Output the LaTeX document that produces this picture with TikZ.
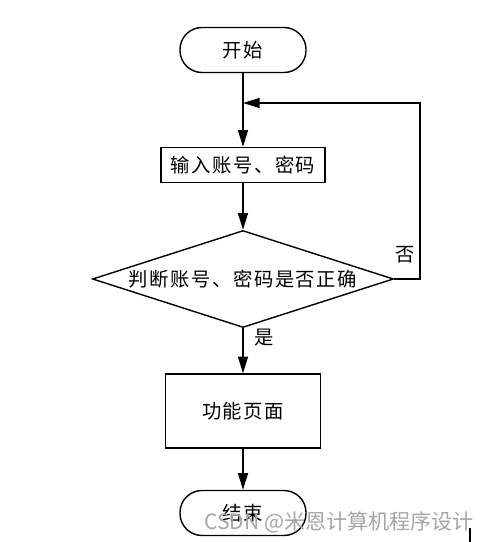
\documentclass[tikz,border=0pt]{standalone}
\usepackage{fontspec}
\setmainfont[LetterSpace=8]{Noto Sans CJK SC}
\newfontfamily\markfont{Noto Sans CJK SC}
\usetikzlibrary{arrows.meta,shapes.geometric}
\begin{document}
\begin{tikzpicture}[x=0.03cm,y=-0.03cm,line width=1.2pt,
  every node/.style={font=\fontsize{16.5pt}{19pt}\selectfont},
  term/.style={draw,rounded corners=0.66cm,minimum width=3.78cm,minimum height=1.35cm},
  inbox/.style={draw,minimum width=4.92cm,minimum height=1.05cm,inner sep=1pt},
  pagebox/.style={draw,minimum width=4.65cm,minimum height=2.22cm},
  check/.style={draw,diamond,aspect=3.1,minimum width=9.03cm,minimum height=2.91cm,inner sep=1pt},
  arr/.style={-{Triangle[length=0.5cm,width=0.3cm]}}]
\useasboundingbox (0,0) rectangle (480,542);

\node[term] (start) at (243,50) {开始};
\node[inbox] (input) at (243,165) {输入账号、密码};
\node[check] (judge) at (243,279) {判断账号、密码是否正确};
\node[pagebox] (page) at (243,411) {功能页面};
\node[term] (stop) at (243,513) {结束};

\coordinate (back) at (243,103);
\coordinate (turn) at (420,279);

\draw[arr] (start) -- (input);
\draw[arr] (input) -- (judge);
\draw[arr] (judge) -- (page);
\draw[arr] (page) -- (stop);
\draw[arr] (judge.east) -- (turn) |- (back);

\node (no) at (405,255) {否};
\node (yes) at (264,338) {是};

% watermark
\node[font=\markfont\fontsize{18pt}{20pt}\selectfont,text=gray!70] (mark) at (339,522) {CSDN @米恩计算机程序设计};
\draw[line width=1.5pt] (470,528) -- (470,542);
\end{tikzpicture}
\end{document}
